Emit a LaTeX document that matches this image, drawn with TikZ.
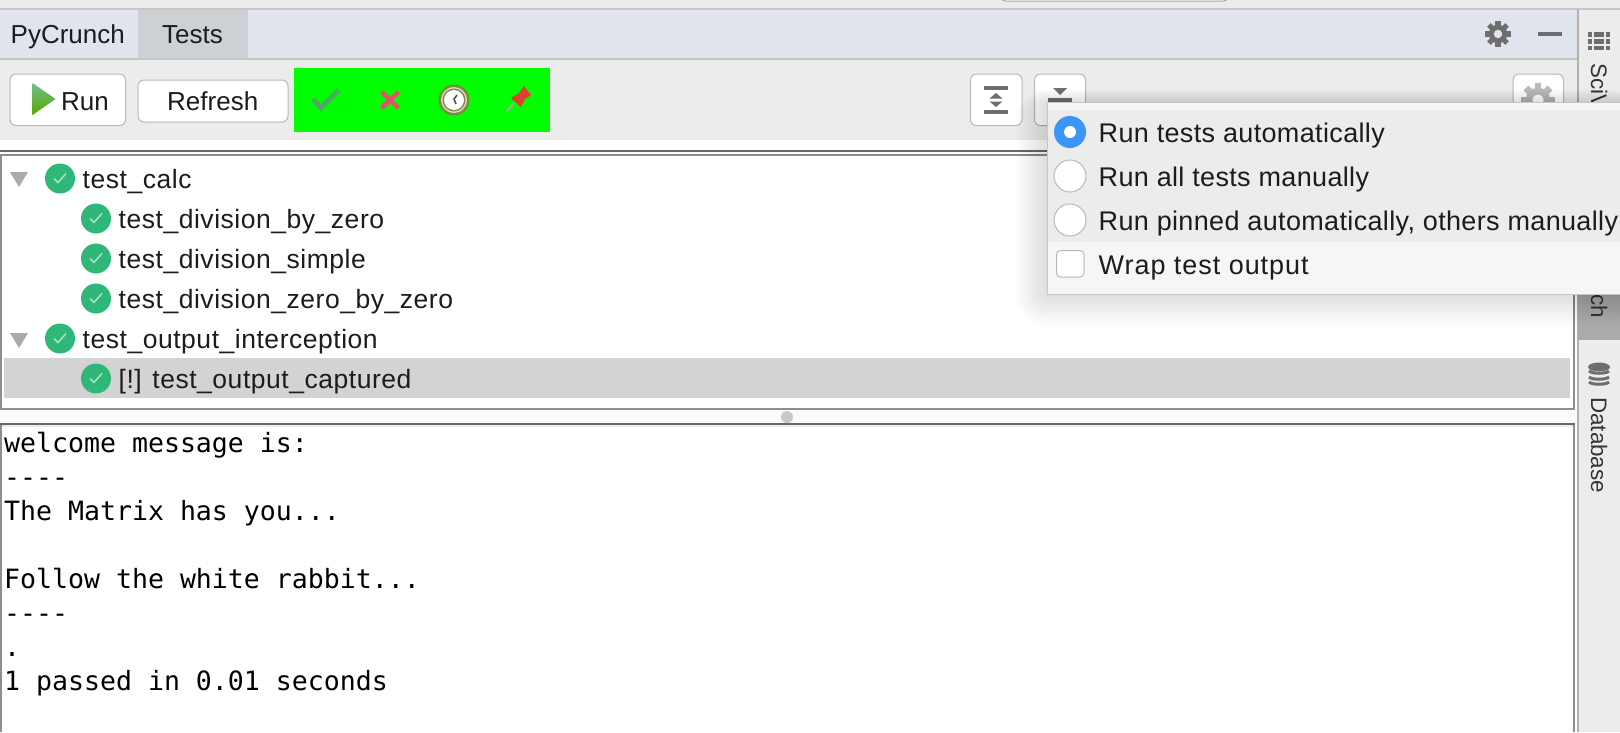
\documentclass[tikz,border=0pt]{standalone}
\usepackage{fontspec}
\usepackage{xcolor}
\setmainfont{Liberation Sans}
\newfontfamily\treefont[LetterSpace=2]{Liberation Sans}
\newfontfamily\popfont[LetterSpace=1.3]{Liberation Sans}
\newfontfamily\wrapfont[LetterSpace=3.5]{Liberation Sans}
\newfontfamily\outfont{DejaVu Sans Mono}
\usetikzlibrary{calc}
\definecolor{chrome}{HTML}{ECECEC}
\definecolor{tabbar}{HTML}{E0E4EC}
\definecolor{tabsel}{HTML}{CDD1D6}
\definecolor{rule}{HTML}{C6C6C6}
\definecolor{frame}{HTML}{8E8E8E}
\definecolor{framedark}{HTML}{686868}
\definecolor{ink}{HTML}{1C1C1C}
\definecolor{icon}{HTML}{6E6E6E}
\definecolor{okgreen}{HTML}{2FB777}
\definecolor{rowsel}{HTML}{D3D3D3}
\definecolor{popbg}{HTML}{F6F6F6}
\definecolor{radio}{HTML}{3B96F8}
\definecolor{lime}{HTML}{00FF00}
\definecolor{runtop}{HTML}{6BBF8A}
\definecolor{runmid}{HTML}{8CCF3A}
\definecolor{runlow}{HTML}{5AA800}
\definecolor{filtok}{HTML}{4FA85F}
\definecolor{filtbad}{HTML}{E65070}
\definecolor{clockring}{HTML}{7A8A40}
\definecolor{pinred}{HTML}{E04030}
\definecolor{pinshaft}{HTML}{80C080}
\tikzset{
  lab/.style={anchor=base west, inner sep=0pt, text=ink, font=\fontsize{26}{30}\selectfont},
  treelab/.style={lab, font=\fontsize{26.5}{30}\selectfont\treefont},
  poplab/.style={lab, font=\fontsize{27}{30}\selectfont\popfont},
  outlab/.style={lab, text=black, font=\fontsize{26.55}{30}\selectfont\outfont},
  sidelab/.style={anchor=base west, inner sep=0pt, rotate=-90, text=ink!90, font=\fontsize{22.4}{26}\selectfont},
  btn/.style={draw=black!28, fill=white, line width=1pt, rounded corners=6pt},
  ok/.pic={
    \fill[okgreen] (0,0.5) circle (15);
    \draw[white!60!okgreen, line width=1.5pt] (-6,0.5) -- (-2,4.5) -- (6,-4.5);
  },
  fold/.pic={\fill[black!33] (-9,-7) -- (9,-7) -- (0,8) -- cycle;},
  radiobtn/.style={draw=black!28, fill=white, line width=1pt},
}
\newcommand{\gearicon}[5]{% x, y, radius, colour, hole
  \fill[#4] (#1,#2) circle (#3*0.72);
  \foreach \a in {0,45,...,135}
    \fill[#4, rotate around={\a:(#1,#2)}] ($(#1,#2)+(-#3*0.2,-#3)$) rectangle ($(#1,#2)+(#3*0.2,#3)$);
  \fill[#5] (#1,#2) circle (#3*0.33);
}
\begin{document}
\begin{tikzpicture}[x=1pt,y=-1pt]
  \clip (0,0) rectangle (1620,732);
  \fill[chrome] (0,0) rectangle (1620,732);
  \fill[white] (0,140) rectangle (1578,732);

  % search box at the very top
  \draw[btn, draw=black!35] (1000,-8) rectangle (1229,1);

  % tab bar
  \fill[tabbar] (0,10) rectangle (1579,58);
  \fill[tabsel] (138,10) rectangle (248,58);
  \fill[rule] (0,8) rectangle (1620,10);
  \fill[rule] (0,58) rectangle (1579,60);
  \node[lab] (tabcrunch) at (10.5,43) {PyCrunch};
  \node[lab] (tabtests) at (162,43) {Tests};
  \gearicon{1498}{34}{12.8}{icon}{tabbar}
  \fill[icon] (1538,32) rectangle (1562,36);

  % toolbar buttons
  \draw[btn] (10,74) rectangle (125.5,125.5);
  \shade[top color=runtop, middle color=runmid, bottom color=runlow] (32.5,83) -- (55.5,99) -- (32.5,115) -- cycle;
  \node[lab] (runlab) at (61,110) {Run};
  \draw[btn] (138,80) rectangle (288,122);
  \node[lab] (refreshlab) at (167,110) {Refresh};

  % status filters
  \fill[lime] (294,68) rectangle (550,132);
  \draw[filtok, line width=5pt] (313,99) -- (321,108) -- (339,90);
  \draw[filtbad, line width=4.5pt] (381.5,92) -- (398.5,108) (398.5,92) -- (381.5,108);
  \fill[clockring] (454,100) circle (15.5);
  \fill[white!70!clockring] (454,100) circle (13);
  \fill[clockring] (454,100) circle (11.5);
  \fill[white] (454,100) circle (10);
  \draw[black!70, line width=1.5pt] (457,95) -- (454,99) -- (456,104);
  \draw[pinshaft, line width=2.5pt] (507,111) -- (514,103);
  \fill[pinred] (524,86) -- (531,95) -- (525,99) -- (521,107) -- (511,98) -- (519,93) -- cycle;

  \draw[btn] (970.5,74) rectangle (1022,125.5);
  \fill[icon] (984,86) rectangle (1008,90);
  \fill[icon] (984,110) rectangle (1008,114);
  \fill[icon] (996,93) -- (1002.5,98.5) -- (989.5,98.5) -- cycle;
  \fill[icon] (996,107) -- (1002.5,101.5) -- (989.5,101.5) -- cycle;
  \draw[btn] (1034.5,74) rectangle (1085.5,125.5);
  \fill[icon] (1053,88) -- (1067,88) -- (1060,95) -- cycle;
  \fill[icon] (1048,98) rectangle (1072,102);
  \draw[btn] (1513,74) rectangle (1563.5,125.5);
  \gearicon{1538}{100}{17}{black!27}{white}

  % test tree
  \fill[framedark] (0,150) rectangle (1575,152);
  \fill[frame] (0,154) rectangle (1575,156);
  \fill[frame] (0,408) rectangle (1575,410);
  \fill[frame] (0,154) rectangle (2,410);
  \fill[frame] (1573,154) rectangle (1575,410);
  \fill[rowsel] (4,358) rectangle (1570,398);
  \pic at (19,179) {fold};
  \pic at (19,340) {fold};
  \foreach \nn/\xx/\yy/\txt in {
    rowa/60/178/test\_calc,
    rowb/96/218/test\_division\_by\_zero,
    rowc/96/258/test\_division\_simple,
    rowd/96/298/test\_division\_zero\_by\_zero,
    rowe/60/338/test\_output\_interception,
    rowf/96/378/[!] test\_output\_captured}{
    \pic at (\xx,\yy) {ok};
    \node[treelab] (\nn) at (\xx+22.5,\yy+10) {\txt};
  }

  % splitter
  \fill[black!2] (0,410) rectangle (1578,423);

  % output panel
  \fill[framedark] (0,423) rectangle (1575,425);
  \fill[black!8] (2,425) rectangle (1573,426.5);
  \fill[frame] (0,425) rectangle (2,732);
  \fill[frame] (1573,425) rectangle (1575,732);
  \fill[black!22] (787,417) circle (6);
  \foreach \nn/\yy/\txt in {
    outa/452/welcome message is:,
    outb/486/-{}-{}-{}-,
    outc/520/The Matrix has you.{}.{}.,
    outd/588/Follow the white rabbit.{}.{}.,
    oute/622/-{}-{}-{}-,
    outf/656/.{},
    outg/690/1 passed in 0.01 seconds}{
    \node[outlab] (\nn) at (4,\yy) {\txt};
  }

  % side strip
  \fill[frame!70] (1577,10) rectangle (1579,732);
  \fill[black!33] (1578,280) rectangle (1620,340);
  \foreach \ya/\yb in {32/36.5,38.5/43.5,45.5/50}
    \foreach \xa/\xb in {1588/1592,1594/1604,1606/1610}
      \fill[icon] (\xa,\ya) rectangle (\xb,\yb);
  \node[sidelab] (sidesci) at (1591,63) {SciV};
  \node[anchor=base east, inner sep=0pt, rotate=-90, text=ink!90, font=\fontsize{22.4}{26}\selectfont] (sidecrunch) at (1591,318) {ch};
  \fill[icon] (1599,367) ellipse (11 and 4.5);
  \foreach \yy in {371,377,382}
    \draw[icon, line width=3pt] (1589,\yy) .. controls (1592,\yy+3) and (1606,\yy+3) .. (1609,\yy);
  \node[sidelab] (sidedb) at (1591,397) {Database};

  % popup shadow
  \foreach \g in {2,4,...,32}
    \fill[black, opacity=0.009, rounded corners=\g pt] (1047-\g,102-\g*0.4) rectangle (1640,294+\g);

  % popup menu
  \draw[black!22, fill=popbg, line width=1pt] (1047.5,102) rectangle (1640,294);
  \fill[chrome] (1048,110) rectangle (1640,242);
  \fill[radio] (1070,132) circle (16);
  \fill[white] (1070,132) circle (6);
  \draw[radiobtn] (1070,176) circle (16);
  \draw[radiobtn] (1070,220) circle (16);
  \draw[radiobtn, rounded corners=4pt] (1056.5,250.5) rectangle (1084,277);
  \node[poplab] (popauto) at (1098.5,142.5) {Run tests automatically};
  \node[poplab] (popmanual) at (1098.5,186) {Run all tests manually};
  \node[poplab] (poppinned) at (1098.5,230) {Run pinned automatically, others manually};
  \node[poplab, font=\fontsize{27}{30}\selectfont\wrapfont] (popwrap) at (1098.5,274) {Wrap test output};
\end{tikzpicture}
\end{document}
